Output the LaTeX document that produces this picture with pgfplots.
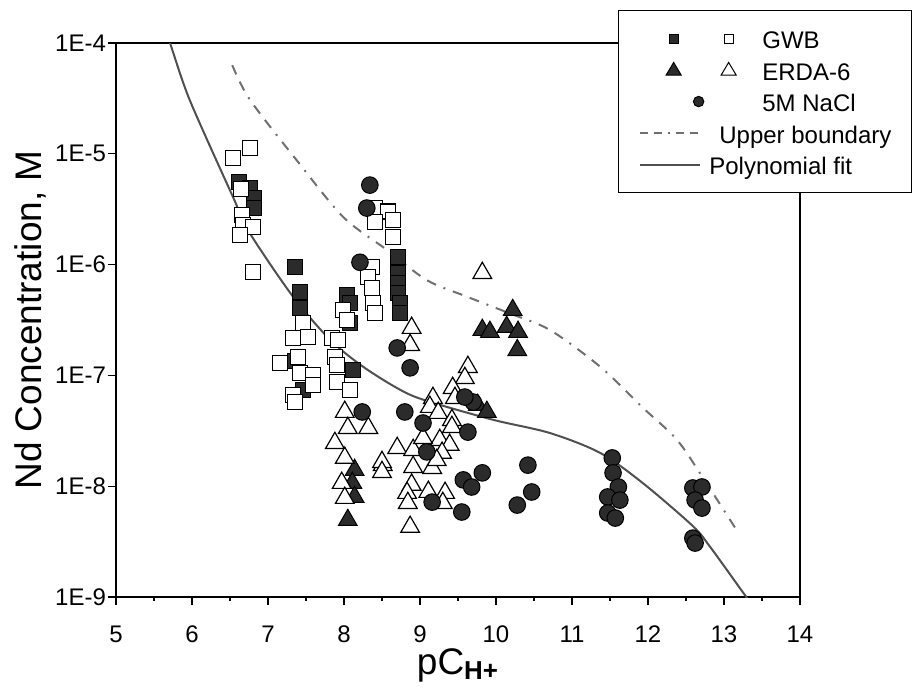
\documentclass[border=0pt]{standalone}
\usepackage{fontspec}
\setmainfont{Liberation Sans}
\usepackage{pgfplots}
\pgfplotsset{compat=1.18}
\definecolor{mk}{HTML}{2B2B2B}
\definecolor{fitc}{HTML}{505050}
\definecolor{bndc}{HTML}{707070}
\begin{document}
\begin{tikzpicture}
\begin{axis}[
  at={(0pt,0pt)}, anchor=south west,
  scale only axis, width=342pt, height=277pt,
  xmin=5, xmax=14, ymin=1e-9, ymax=1e-4, ymode=log, log basis y=10,
  xtick={5,6,7,8,9,10,11,12,13,14}, minor x tick num=1,
  ytick={1e-9,1e-8,1e-7,1e-6,1e-5,1e-4},
  yticklabels={1E-9,1E-8,1E-7,1E-6,1E-5,1E-4},
  tick align=outside, xtick pos=bottom, ytick pos=left,
  major tick length=4pt, minor tick length=2pt,
  tick style={black, line width=0.6pt},
  axis line style={black, line width=0.7pt},
  ticklabel style={font=\fontsize{12}{14}\selectfont},
  xticklabel style={yshift=-7pt},
  yticklabel style={xshift=2.5pt},
  /pgf/number format/assume math mode=true,
  xlabel={pC\textsubscript{\textbf{H+}}},
  ylabel={Nd Concentration, M},
  xlabel style={at={(axis description cs:0.5,0)}, anchor=base, inner sep=0pt, yshift=-38.5pt, font=\fontsize{18.5}{20}\selectfont},
  ylabel style={at={(axis description cs:-0.1257,0.5)}, anchor=center, inner sep=0pt, font=\fontsize{18.5}{20}\selectfont},
  legend cell align=left,
  legend style={at={(0.734,1.0596)}, anchor=north west, draw=black, fill=white, line width=0.6pt,
    font=\fontsize{12}{14}\selectfont, inner xsep=10pt, inner ysep=6.1pt,
    nodes={inner sep=0pt, text height=13pt, text depth=2.75pt},
    row sep=0pt, column sep=2.5pt},
]
% GWB filled squares
\addplot[only marks, mark=square*, mark size=3.75pt, mark options={fill=mk, draw=black, line width=0.5pt},
  legend image code/.code={
    \path[draw=none] (0pt,0pt) -- (30pt,0pt);
    \draw[draw=black, fill=mk, line width=0.5pt, solid] (14.75pt,-2.25pt) rectangle (19.25pt,2.25pt);
    \draw[overlay, draw=black, fill=white, line width=0.5pt, solid] (42.25pt,-2.25pt) rectangle (46.75pt,2.25pt);
  }] coordinates {
 (6.62,5.56e-6) (6.76,4.91e-6) (6.82,3.99e-6) (6.82,3.24e-6)
 (7.36,9.51e-7) (7.42,5.66e-7) (7.42,4.06e-7) (7.36,1.35e-7) (7.46,7.38e-8)
 (8.04,5.32e-7) (8.08,4.50e-7) (8.08,2.97e-7) (8.12,1.12e-7)
 (8.71,1.17e-6) (8.71,8.39e-7) (8.71,6.82e-7) (8.71,5.55e-7) (8.74,4.50e-7) (8.74,3.66e-7)
};
\addlegendentry{\hspace{26.5pt}GWB}
% GWB open squares
\addplot[only marks, forget plot, mark=square*, mark size=3.75pt, mark options={fill=white, draw=black, line width=0.6pt}] coordinates {
 (6.76,1.13e-5) (6.54,9.16e-6) (6.64,4.81e-6) (6.66,2.81e-6) (6.67,2.28e-6) (6.80,2.18e-6) (6.63,1.85e-6) (6.80,8.57e-7)
 (7.46,2.97e-7) (7.33,2.18e-7) (7.53,2.22e-7) (7.16,1.29e-7) (7.39,1.47e-7) (7.42,1.05e-7) (7.59,1.01e-7) (7.59,8.18e-8) (7.33,6.65e-8) (7.36,5.75e-8)
 (7.99,3.89e-7) (8.04,3.16e-7) (7.84,2.18e-7) (7.92,2.09e-7) (7.88,1.47e-7) (7.91,1.24e-7) (7.91,8.71e-8) (8.08,7.38e-8)
 (8.41,3.24e-6) (8.58,3.02e-6) (8.41,2.42e-6) (8.64,2.53e-6) (8.64,1.77e-6)
 (8.37,9.51e-7) (8.32,7.73e-7) (8.37,6.15e-7) (8.38,4.50e-7) (8.41,3.66e-7)
};
% ERDA-6 filled triangles
\addplot[only marks, mark=triangle*, mark size=5.4pt, mark options={fill=mk, draw=black, line width=0.5pt},
  legend image code/.code={
    \path[draw=none] (0pt,0pt) -- (30pt,0pt);
    \draw[draw=black, fill=mk, line width=0.5pt, solid] (13.25pt,-2.5pt) -- (20.75pt,-2.5pt) -- (17pt,3.8pt) -- cycle;
    \draw[overlay, draw=black, fill=white, line width=0.5pt, solid] (40.75pt,-2.5pt) -- (48.25pt,-2.5pt) -- (44.5pt,3.8pt) -- cycle;
  }] coordinates {
 (10.22,3.89e-7) (9.82,2.57e-7) (9.92,2.47e-7) (10.14,2.74e-7) (10.29,2.47e-7) (10.28,1.69e-7)
 (8.14,1.40e-8) (8.11,1.07e-8) (8.14,8.00e-9) (8.05,4.95e-9)
 (9.76,5.41e-8) (9.88,4.68e-8)
};
\addlegendentry{\hspace{26.5pt}ERDA-6}
% ERDA-6 open triangles
\addplot[only marks, forget plot, mark=triangle*, mark size=5.4pt, mark options={fill=white, draw=black, line width=0.6pt}] coordinates {
 (9.82,8.39e-7) (8.89,2.68e-7) (8.87,1.88e-7) (9.63,1.19e-7) (9.59,9.46e-8) (9.43,7.69e-8) (9.46,6.25e-8) (9.17,6.25e-8)
 (9.13,5.19e-8) (9.24,4.58e-8) (9.42,3.95e-8) (9.42,3.42e-8) (9.26,2.61e-8) (9.39,2.36e-8) (8.70,2.21e-8) (8.91,2.12e-8)
 (9.29,2.00e-8) (8.91,1.49e-8) (9.16,1.46e-8) (8.89,1.03e-8) (8.83,8.69e-9) (9.11,8.87e-9) (9.33,8.69e-9) (8.84,7.05e-9)
 (8.87,4.29e-9) (8.51,1.55e-8) (8.01,4.68e-8) (8.05,3.35e-8) (8.32,3.35e-8) (7.88,2.45e-8) (8.01,1.80e-8) (8.50,1.65e-8)
 (8.50,1.34e-8) (7.97,1.07e-8) (8.01,7.83e-9) (9.22,1.72e-8) (9.04,2.72e-8) (9.30,7.05e-9)
};
% 5M NaCl circles
\addplot[only marks, mark=*, mark size=4.15pt, mark options={fill=mk, draw=black, line width=0.5pt},
  legend image code/.code={
    \path[draw=none] (0pt,0pt) -- (30pt,0pt);
    \draw[draw=black, fill=mk, line width=0.5pt, solid] (29.5pt,0pt) circle (2.6pt);
  }] coordinates {
 (8.34,5.22e-6) (8.30,3.24e-6) (8.21,1.05e-6) (8.24,4.68e-8) (8.70,1.77e-7) (8.87,1.17e-7) (8.80,4.68e-8)
 (9.04,3.72e-8) (9.09,2.04e-8) (9.63,3.08e-8) (9.70,5.75e-8) (9.59,6.38e-8) (9.57,1.14e-8) (9.68,9.84e-9)
 (9.82,1.32e-8) (9.16,7.19e-9) (9.55,5.85e-9) (10.42,1.55e-8) (10.47,8.87e-9) (10.28,6.76e-9)
 (11.53,1.80e-8) (11.54,1.32e-8) (11.61,9.84e-9) (11.47,8.00e-9) (11.63,7.50e-9) (11.47,5.73e-9) (11.57,5.16e-9)
 (12.59,9.64e-9) (12.71,9.84e-9) (12.62,7.50e-9) (12.71,6.35e-9) (12.59,3.40e-9) (12.62,3.07e-9)
};
\addlegendentry{\hspace{26.5pt}5M NaCl}
% Upper boundary
\addplot[bndc, line width=1pt, smooth, dash pattern=on 5pt off 4pt on 5pt off 4pt on 1pt off 4pt,
  legend image code/.code={\draw[bndc, line width=1pt, dash pattern=on 4pt off 3pt on 4pt off 3pt on 1pt off 3pt] (0pt,0pt) -- (30pt,0pt);}] coordinates {
 (6.53,6.31e-5) (6.76,3.09e-5) (7.38,8.71e-6) (7.99,2.69e-6) (8.57,1.35e-6) (9.09,7.24e-7) (9.62,5.13e-7)
 (10.18,3.63e-7) (10.71,2.57e-7) (11.37,1.20e-7) (11.93,5.13e-8) (12.38,2.63e-8) (12.72,1.20e-8) (13.17,3.98e-9)
};
\addlegendentry{\hspace{5pt}Upper boundary\hspace{12pt}}
% Polynomial fit
\addplot[fitc, line width=1pt, smooth,
  legend image code/.code={\draw[fitc, line width=1pt] (0pt,0pt) -- (30pt,0pt);}] coordinates {
 (5.65,1.17e-4) (5.71,1.00e-4) (5.97,3.06e-5) (6.54,4.07e-6) (6.76,1.93e-6) (7.33,5.13e-7) (7.82,2.09e-7)
 (8.25,1.20e-7) (8.74,7.41e-8) (9.09,5.89e-8) (9.96,3.98e-8) (10.71,3.02e-8) (11.37,2.00e-8) (11.93,1.07e-8)
 (12.59,4.37e-9) (12.82,2.82e-9) (13.25,1.10e-9) (13.35,8.91e-10)
};
\addlegendentry{Polynomial fit}
\end{axis}
\pgfresetboundingbox
\path (-58pt,-44.5pt) rectangle (399pt,298.5pt);
\end{tikzpicture}
\end{document}
